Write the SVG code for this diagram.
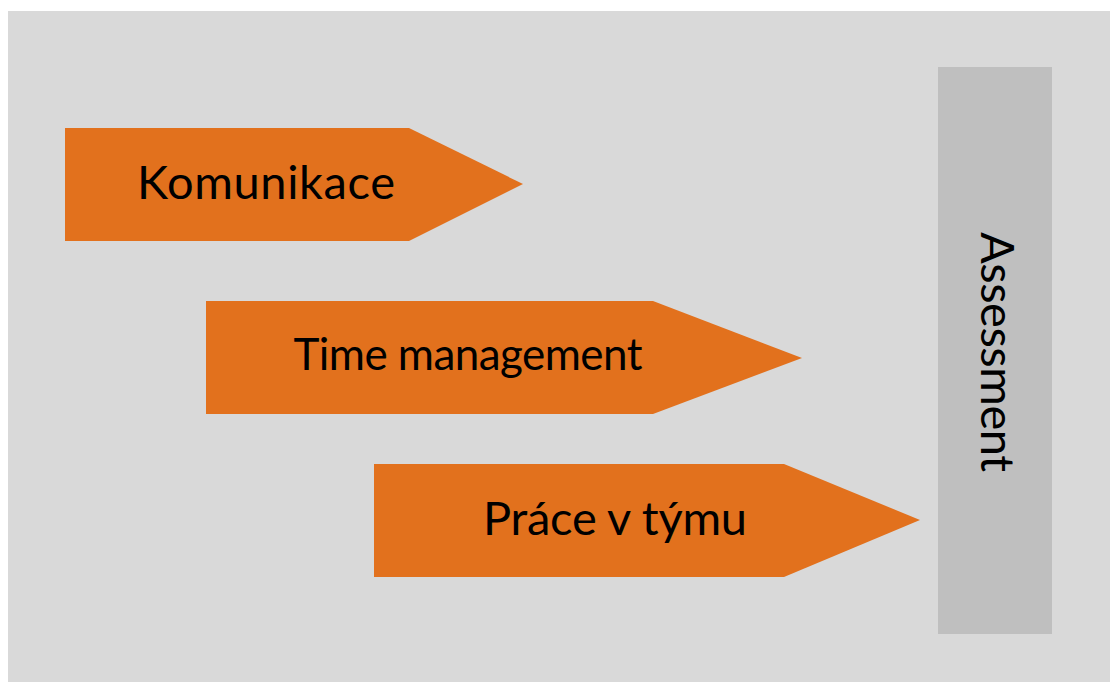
<svg xmlns="http://www.w3.org/2000/svg" width="1110" height="682" viewBox="0 0 1110 682">
<style>
.arrow{fill:#E2711D}
.lbl{font-family:Lato,"Open Sans",sans-serif;font-size:47px;fill:#000;text-anchor:middle}
</style>
<rect x="0" y="0" width="1110" height="682" fill="#FFFFFF"/>
<rect id="background" x="8" y="11" width="1102" height="671" fill="#D9D9D9"/>
<g id="assessment">
<rect x="938" y="67" width="114" height="567" fill="#BFBFBF"/>
<text class="lbl" transform="translate(981,352) rotate(90)" textLength="240">Assessment</text>
</g>
<g id="komunikace">
<polygon class="arrow" points="65,128 409,128 523,184 409,241 65,241"/>
<text class="lbl" x="266" y="199" textLength="258">Komunikace</text>
</g>
<g id="time-management">
<polygon class="arrow" points="206,301 653,301 802,358 653,414 206,414"/>
<text class="lbl" x="468" y="370" style="font-size:44px" textLength="349">Time management</text>
</g>
<g id="prace-v-tymu">
<polygon class="arrow" points="374,464 784,464 920,520 784,577 374,577"/>
<text class="lbl" x="615" y="535" textLength="264">Práce v týmu</text>
</g>
<g id="connectors"></g>
</svg>
